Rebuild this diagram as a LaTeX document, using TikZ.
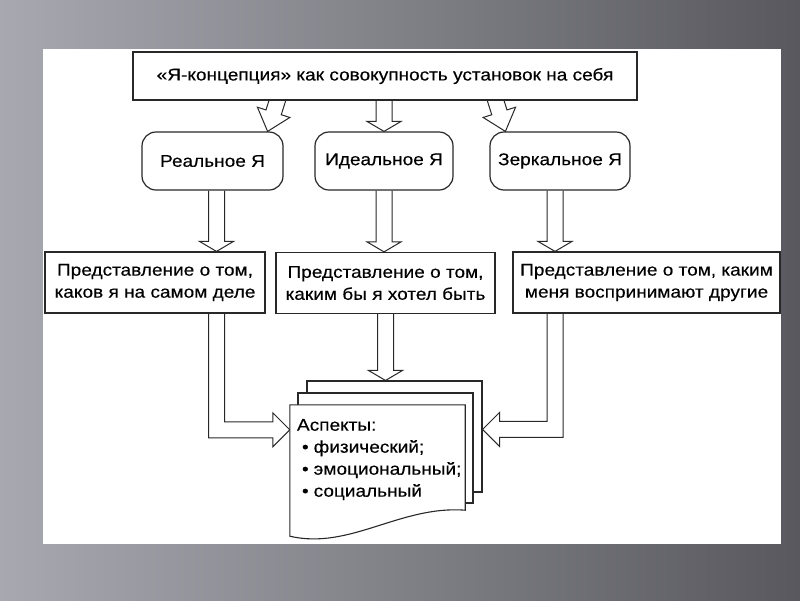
\documentclass[tikz,border=0pt]{standalone}
\usepackage{fontspec}
\setmainfont{Liberation Sans}[FakeStretch=1.12, FakeBold=0.3]
\usetikzlibrary{calc, positioning}

\definecolor{bgLight}{RGB}{168,168,176}
\definecolor{bgDark}{RGB}{88,88,94}
\definecolor{ink}{RGB}{40,40,40}

\pgfdeclarelayer{paper}
\pgfdeclarelayer{arrows}
\pgfsetlayers{paper,arrows,main}

% hollow block arrow from #2 to #3, head length #1
\newcommand{\fatarrow}[3][10pt]{%
	\path ($(#3)!#1!(#2)$) coordinate (fa-base);
	\draw[fat] ($(#2)!8pt!90:(#3)$) -- ($(fa-base)!8pt!90:(#3)$) -- ($(fa-base)!17pt!90:(#3)$) -- (#3)
		-- ($(fa-base)!17pt!-90:(#3)$) -- ($(fa-base)!8pt!-90:(#3)$) -- ($(#2)!8pt!-90:(#3)$);
}

\newcommand{\aspectitem}[1]{\hspace*{5pt}•\hspace{5pt}#1}

\begin{document}
\begin{tikzpicture}[x=1pt, y=-1pt, font=\fontsize{17}{22}\selectfont]
		
		% Define styles
		\tikzstyle{titlebox} = [rectangle, draw=ink, fill=white, line width=1.8pt, minimum width=504pt, minimum height=48pt, inner sep=0pt]
		\tikzstyle{selfbox} = [rectangle, rounded corners=14pt, draw=ink, fill=white, line width=1.2pt, minimum height=58pt, inner sep=0pt]
		\tikzstyle{viewbox} = [rectangle, draw=ink, fill=white, line width=1.2pt, minimum height=61pt, inner sep=0pt, align=center]
		\tikzstyle{sheet} = [rectangle, draw=ink, fill=white, line width=1.1pt, minimum width=175pt, inner sep=0pt]
		\tikzstyle{fat} = [draw=ink, fill=white, line width=1pt, line join=miter]
		
		% Slide background
		\begin{pgfonlayer}{paper}
			\shade[left color=bgLight, right color=bgDark] (0,0) rectangle (800,600);
			\fill[white] (43,49) rectangle (781,544);
		\end{pgfonlayer}
		
		% Nodes
		\node[titlebox] (concept) at (385,76) {«Я-концепция» как совокупность установок на себя};
		
		\node[selfbox, minimum width=141pt] (real) at (212.5,161) {Реальное Я};
		\node[selfbox, minimum width=138pt] (ideal) at (384,161) {Идеальное Я};
		\node[selfbox, minimum width=140pt] (mirror) at (560,161) {Зеркальное Я};
		
		\node[viewbox, minimum width=220pt] (actual) at (155,282.5) {Представление о том,\\каков я на самом деле};
		\node[viewbox, minimum width=219pt] (wished) at (385.5,283) {Представление о том,\\каким бы я хотел быть};
		\node[viewbox, minimum width=267pt] (seen) at (646.5,282.5) {Представление о том, каким\\меня воспринимают другие};
		
		% Stack of sheets
		\node[sheet, minimum height=111pt] (sheet3) at (394.5,436.5) {};
		\node[sheet, minimum height=110pt] (sheet2) at (385.5,448) {};
		\node[minimum width=175pt, minimum height=105pt, inner sep=0pt] (sheet1) at (377.5,457.5) {};
		\draw[draw=ink, fill=white, line width=1.1pt] (sheet1.south east) -- (sheet1.north east) -- (sheet1.north west)
			-- ($(sheet1.south west)+(0,26)$) .. controls +(60,14) and +(-65,-5) .. (sheet1.south east) -- cycle;
		\node[anchor=north west, align=left, inner sep=0pt] (aspects) at ($(sheet1.north west)+(7,14)$)
			{Аспекты:\\\aspectitem{физический;}\\\aspectitem{эмоциональный;}\\\aspectitem{социальный}};
		
		% Arrows
		\coordinate (tipR) at ($(real.north east)+(-16,0)$);
		\coordinate (tailR) at ($(tipR)+(12,-38)$);
		\coordinate (tipM) at ($(mirror.north west)+(16,0)$);
		\coordinate (tailM) at ($(tipM)+(-12,-38)$);
		\coordinate (c1) at (concept.south -| ideal.north);
		\coordinate (r0) at ($(real.south)+(4,0)$);
		\coordinate (r1) at (r0 |- actual.north);
		\coordinate (i1) at (ideal.south |- wished.north);
		\coordinate (m0) at ($(mirror.south)+(-5,0)$);
		\coordinate (m1) at (m0 |- seen.north);
		\coordinate (w1) at (wished.south |- sheet3.north);
		
		\coordinate (startL) at (r0 |- actual.south);
		\coordinate (tipL) at ($(sheet1.north west)+(0,25)$);
		\coordinate (bendL) at (startL |- tipL);
		\coordinate (startS) at (m0 |- seen.south);
		\coordinate (tipS) at ($(sheet3.north east)+(0,49)$);
		\coordinate (bendS) at (startS |- tipS);
		
		\begin{pgfonlayer}{arrows}
			\fatarrow[20pt]{tailR}{tipR}
			\fatarrow{c1}{ideal.north}
			\fatarrow[20pt]{tailM}{tipM}
			
			\fatarrow{r0}{r1}
			\fatarrow{ideal.south}{i1}
			\fatarrow{m0}{m1}
			
			\fatarrow{wished.south}{w1}
			
			\draw[fat] ($(startL)+(-8,0)$) -- ($(bendL)+(-8,8)$) -- ($(tipL)+(-17,8)$) -- ($(tipL)+(-17,17)$) -- (tipL)
				-- ($(tipL)+(-17,-17)$) -- ($(tipL)+(-17,-8)$) -- ($(bendL)+(8,-8)$) -- ($(startL)+(8,0)$);
			\draw[fat] ($(startS)+(8,0)$) -- ($(bendS)+(8,8)$) -- ($(tipS)+(17,8)$) -- ($(tipS)+(17,17)$) -- (tipS)
				-- ($(tipS)+(17,-17)$) -- ($(tipS)+(17,-8)$) -- ($(bendS)+(-8,-8)$) -- ($(startS)+(-8,0)$);
		\end{pgfonlayer}
		
	\end{tikzpicture}
\end{document}
